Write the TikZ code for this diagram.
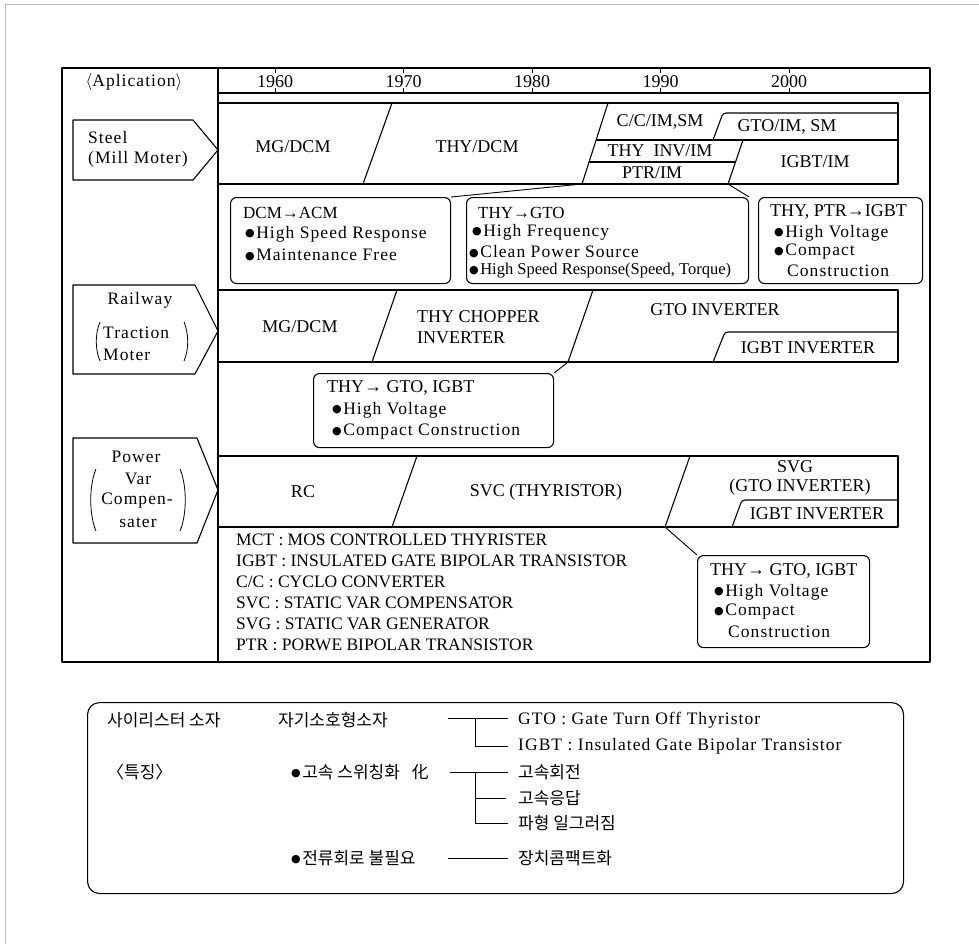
\documentclass[tikz,border=0pt]{standalone}
\usepackage{fontspec}
\setmainfont{Liberation Serif}
\newfontfamily\lspfont[LetterSpace=6]{Liberation Serif}
\newfontfamily\krfont{Noto Sans CJK KR}
\newfontfamily\symfont{DejaVu Sans}
\newcommand\bul{{\symfont\fontsize{11}{11}\selectfont\raisebox{1.5pt}{●}}\hspace{1.5pt}}
\tikzset{
 frame/.style={line width=1.4pt},
 bandline/.style={line width=1.1pt},
 thinline/.style={line width=0.9pt},
 paren/.style={line width=0.8pt},
 caplbl/.style={font=\fontsize{18}{21}\selectfont, inner sep=0pt},
 smalllbl/.style={font=\fontsize{16.5}{19}\selectfont, inner sep=0pt, anchor=west},
 mixlbl/.style={font=\lspfont\fontsize{17.5}{21}\selectfont, inner sep=0pt, anchor=west},
 legendlbl/.style={font=\fontsize{17.5}{21}\selectfont, inner sep=0pt, anchor=west},
 callout/.style={draw, line width=1.1pt, rounded corners=6pt, inner sep=0pt, anchor=north west},
 krlbl/.style={font=\krfont\fontsize{17}{19}\selectfont, inner sep=0pt, anchor=west},
 appbox/.style={line width=1.1pt},
}
\begin{document}
\begin{tikzpicture}[x=1pt,y=-1pt,line join=round]
\useasboundingbox (0,0) rectangle (979,944);
\draw[gray!55,line width=0.7pt] (5,944) -- (5,4) -- (979,4);
% ---------- table frame ----------
\draw[frame] (62,68) rectangle (930,662);
\draw[frame] (218,68) -- (218,662);
\draw[bandline] (218,93) -- (930,93);
\node[mixlbl,anchor=center] (app) at (134,82) {$\langle$Aplication$\rangle$};
\foreach \yr [count=\i from 0] in {1960,1970,1980,1990,2000} {
  \pgfmathsetmacro\xx{275+128.5*\i}
  \draw[thinline] (\xx,68) -- (\xx,73) (\xx,88) -- (\xx,93);
  \node[caplbl] (y\yr) at (\xx,82) {\yr};
}
% ---------- application arrows ----------
\draw[appbox] (73,120) -- (193,120) -- (218,150) -- (193,180) -- (73,180) -- cycle;
\node[mixlbl] (steelA) at (88,138) {Steel};
\node[mixlbl] (steelB) at (88,159) {(Mill Moter)};
\draw[appbox] (73,285) -- (195,285) -- (218,331) -- (195,374) -- (73,374) -- cycle;
\node[mixlbl,anchor=center] (railA) at (140,300) {Railway};
\node[mixlbl] (railB) at (103,333) {Traction};
\node[mixlbl] (railC) at (103,355) {Moter};
\draw[paren] (100,322) .. controls (95,334) and (95,349) .. (100,361);
\draw[paren] (184,322) .. controls (189,334) and (189,349) .. (184,361);
\draw[appbox] (73,438) -- (197,438) -- (218,490) -- (197,543) -- (73,543) -- cycle;
\node[mixlbl,anchor=center] (powA) at (136,457) {Power};
\node[mixlbl,anchor=center] (powB) at (138,479) {Var};
\node[mixlbl,anchor=center] (powC) at (137,501) {Compen-};
\node[mixlbl,anchor=center] (powD) at (138,523) {sater};
\draw[paren] (96,469) .. controls (89,485) and (89,515) .. (96,531);
\draw[paren] (180,469) .. controls (187,485) and (187,515) .. (180,531);
% ---------- steel band ----------
\draw[bandline] (218,103) -- (898,103) -- (898,184) -- (218,184);
\draw[bandline] (392,103) -- (363,184);
\draw[bandline] (608,103) -- (582,184);
\draw[bandline] (596,140) -- (898,140);
\draw[bandline] (589,162) -- (735.5,162);
\draw[bandline] (743,140) -- (728,184);
\draw[bandline,rounded corners=3pt] (713,140) -- (723,113) -- (898,113);
\node[caplbl] (s1) at (293,147) {MG/DCM};
\node[caplbl] (s2) at (477,147) {THY/DCM};
\node[caplbl] (s3) at (660,122) {C/C/IM,SM};
\node[caplbl] (s4) at (660,151) {THY\ \ INV/IM};
\node[caplbl] (s5) at (652,173) {PTR/IM};
\node[caplbl] (s6) at (787,127) {GTO/IM, SM};
\node[caplbl] (s7) at (815,162) {IGBT/IM};
% ---------- steel callouts ----------
\node[callout,minimum width=220pt,minimum height=86pt] (b1) at (230,197) {};
\node[caplbl,anchor=west,font=\fontsize{17}{20}\selectfont] (b1t) at (243,213) {DCM→ACM};
\node[mixlbl] (b1a) at (245,234) {\bul High Speed Response};
\node[mixlbl] (b1b) at (245,255) {\bul Maintenance Free};
\node[callout,minimum width=282pt,minimum height=86pt] (b2) at (466,197) {};
\node[caplbl,anchor=west,font=\fontsize{17}{20}\selectfont] (b2t) at (478,213) {THY→GTO};
\node[mixlbl] (b2a) at (472,232) {\bul High Frequency};
\node[mixlbl] (b2b) at (469,252) {\bul Clean Power Source};
\node[smalllbl] (b2c) at (469,271) {\bul High Speed Response(Speed, Torque)};
\node[callout,minimum width=164pt,minimum height=86pt] (b3) at (758,197) {};
\node[caplbl,anchor=west] (b3t) at (770,212) {THY, PTR→IGBT};
\node[mixlbl] (b3a) at (774,233) {\bul High Voltage};
\node[mixlbl] (b3b) at (774,252) {\bul Compact};
\node[mixlbl] (b3c) at (787,271) {Construction};
\coordinate (k1) at (582,184);
\coordinate (k2) at (728,184);
\draw[thinline] (b1.north east) -- (k1);
\draw[thinline] (k2) -- (b2.north east);
% ---------- railway band ----------
\draw[bandline] (218,290) -- (898,290) -- (898,362) -- (218,362);
\draw[bandline] (397,290) -- (372,362);
\draw[bandline] (593,290) -- (568,362);
\draw[bandline,rounded corners=3pt] (713,362) -- (725,332) -- (898,332);
\node[caplbl] (r1) at (300,327) {MG/DCM};
\node[caplbl,anchor=west,align=left] (r2) at (417,327) {THY CHOPPER\\INVERTER};
\node[caplbl] (r3) at (715,310) {GTO INVERTER};
\node[caplbl] (r4) at (808,348) {IGBT INVERTER};
\node[callout,minimum width=240pt,minimum height=74pt] (b4) at (313,373) {};
\node[caplbl,anchor=west] (b4t) at (327,388) {THY→ GTO, IGBT};
\node[mixlbl] (b4a) at (332,410) {\bul High Voltage};
\node[mixlbl] (b4b) at (332,432) {\bul Compact Construction};
\coordinate (k3) at (568,362);
\draw[thinline] (k3) -- (b4.north east);
% ---------- power band ----------
\draw[bandline] (218,456) -- (898,456) -- (898,527) -- (218,527);
\draw[bandline] (417,456) -- (392,527);
\draw[bandline] (690,456) -- (665,527);
\draw[bandline,rounded corners=3pt] (732,527) -- (742,500) -- (898,500);
\node[caplbl] (p1) at (303,492) {RC};
\node[caplbl] (p2) at (546,492) {SVC (THYRISTOR)};
\node[caplbl] (p3) at (795,467) {SVG};
\node[caplbl] (p4) at (800,487) {(GTO INVERTER)};
\node[caplbl] (p5) at (817,514) {IGBT INVERTER};
\node[callout,minimum width=172pt,minimum height=92pt] (b5) at (697,555) {};
\node[caplbl,anchor=west] (b5t) at (710,571) {THY→ GTO, IGBT};
\node[mixlbl] (b5a) at (714,592) {\bul High Voltage};
\node[mixlbl] (b5b) at (714,612) {\bul Compact};
\node[mixlbl] (b5c) at (728,632) {Construction};
\coordinate (k4) at (665,527);
\draw[thinline] (k4) -- (b5.north west);
% ---------- abbreviations ----------
\node[legendlbl] (l1) at (236,540) {MCT : MOS CONTROLLED THYRISTER};
\node[legendlbl] (l2) at (236,561) {IGBT : INSULATED GATE BIPOLAR TRANSISTOR};
\node[legendlbl] (l3) at (236,582) {C/C : CYCLO CONVERTER};
\node[legendlbl] (l4) at (236,603) {SVC : STATIC VAR COMPENSATOR};
\node[legendlbl] (l5) at (236,624) {SVG : STATIC VAR GENERATOR};
\node[legendlbl] (l6) at (236,645) {PTR : PORWE BIPOLAR TRANSISTOR};
% ---------- bottom box ----------
\node[draw,line width=1.1pt,rounded corners=12pt,minimum width=816pt,minimum height=191pt,anchor=north west,inner sep=0pt] (bot) at (87,702) {};
\node[krlbl] (ka) at (107,720) {사이리스터 소자};
\node[krlbl] (kb) at (278,720) {자기소호형소자};
\node[mixlbl] (g1) at (518,720) {GTO : Gate Turn Off Thyristor};
\node[mixlbl] (g2) at (518,746) {IGBT : Insulated Gate Bipolar Transistor};
\node[krlbl] (kc) at (107,772) {〈특징〉};
\node[krlbl] (kd) at (291,772) {\bul 고속 스위칭화\hspace{12pt}化};
\node[krlbl] (ke) at (518,772) {고속회전};
\node[krlbl] (kf) at (518,798) {고속응답};
\node[krlbl] (kg) at (518,823) {파형 일그러짐};
\node[krlbl] (kh) at (291,858) {\bul 전류회로 불필요};
\node[krlbl] (ki) at (518,858) {장치콤팩트화};
\coordinate (t1s) at (448,718); \coordinate (t1j) at (475,718);
\coordinate (t1a) at (508,718); \coordinate (t1b) at (508,746);
\draw[thinline] (t1s) -- (t1a);
\draw[thinline] (t1j) |- (t1b);
\coordinate (t2s) at (450,772); \coordinate (t2j) at (475,772);
\coordinate (t2a) at (508,772); \coordinate (t2b) at (506,798); \coordinate (t2c) at (508,823);
\draw[thinline] (t2s) -- (t2a);
\draw[thinline] (t2j) |- (t2c);
\draw[thinline] (t2j |- t2b) -- (t2b);
\coordinate (t3s) at (448,858); \coordinate (t3e) at (508,858);
\draw[thinline] (t3s) -- (t3e);
\end{tikzpicture}
\end{document}
